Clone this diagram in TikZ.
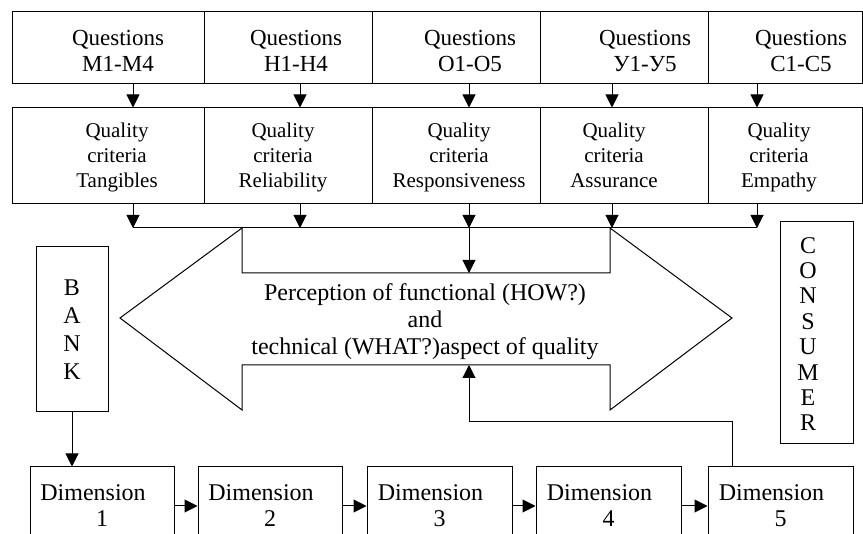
\documentclass[tikz,border=0pt]{standalone}
\usepackage{fontspec}
\setmainfont{Liberation Serif}
\usetikzlibrary{arrows.meta}

\tikzset{
  box/.style={draw, line width=1pt, inner sep=0pt},
  arr/.style={line width=1pt, -{Triangle[length=13pt,width=13pt]}},
  qfont/.style={font=\fontsize{23}{26}\selectfont, align=center},
  cfont/.style={font=\fontsize{21}{25}\selectfont, align=center},
  bigfont/.style={font=\fontsize{24}{26}\selectfont, align=center},
}

\begin{document}
\begin{tikzpicture}[x=1pt,y=-1pt]
\useasboundingbox (0,0) rectangle (863,534);

% Questions row
\node[box, minimum width=192pt, minimum height=72pt] (q1) at (108,48) {};
\node[box, minimum width=168pt, minimum height=72pt] (q2) at (288,48) {};
\node[box, minimum width=168pt, minimum height=72pt] (q3) at (456,48) {};
\node[box, minimum width=168pt, minimum height=72pt] (q4) at (624,48) {};
\node[box, minimum width=154pt, minimum height=72pt] (q5) at (785,48) {};

\node[qfont] (q1t) at (118,51) {Questions\\M1-M4};
\node[qfont] (q2t) at (296,51) {Questions\\H1-H4};
\node[qfont] (q3t) at (470,51) {Questions\\O1-O5};
\node[qfont] (q4t) at (645,51) {Questions\\У1-У5};
\node[qfont] (q5t) at (801,51) {Questions\\C1-C5};

% Criteria row
\node[box, minimum width=192pt, minimum height=96pt] (c1) at (108,156) {};
\node[box, minimum width=168pt, minimum height=96pt] (c2) at (288,156) {};
\node[box, minimum width=168pt, minimum height=96pt] (c3) at (456,156) {};
\node[box, minimum width=168pt, minimum height=96pt] (c4) at (624,156) {};
\node[box, minimum width=154pt, minimum height=96pt] (c5) at (785,156) {};

\node[cfont] (c1t) at (117,157) {Quality\\criteria\\Tangibles};
\node[cfont] (c2t) at (283,157) {Quality\\criteria\\Reliability};
\node[cfont] (c3t) at (459,157) {Quality\\criteria\\Responsiveness};
\node[cfont] (c4t) at (614,155) {Quality\\criteria\\Assurance};
\node[cfont] (c5t) at (779,157) {Quality\\criteria\\Empathy};

% Collecting line
\coordinate (b1) at (133,228);
\coordinate (b2) at (300,228);
\coordinate (b3) at (469,228);
\coordinate (b4) at (612,228);
\coordinate (b5) at (757,228);

\draw[arr] (q1.south -| b1) -- (c1.north -| b1);
\draw[arr] (q2.south -| b2) -- (c2.north -| b2);
\draw[arr] (q3.south -| b3) -- (c3.north -| b3);
\draw[arr] (q4.south -| b4) -- (c4.north -| b4);
\draw[arr] (q5.south -| b5) -- (c5.north -| b5);

\draw[arr] (c1.south -| b1) -- (b1);
\draw[arr] (c2.south -| b2) -- (b2);
\draw[arr] (c3.south -| b3) -- (b3);
\draw[arr] (c4.south -| b4) -- (b4);
\draw[arr] (c5.south -| b5) -- (b5);
\draw[line width=1pt] (b1) -- (b5);

% Double arrow of perception
\draw[line width=1pt] (242,228) -- (242,273) -- (610,273) -- (610,228) -- (732,318)
  -- (610,410) -- (610,365) -- (242,365) -- (242,410) -- (120,318) -- cycle;
\coordinate (shafttop) at (469,273);
\coordinate (shaftbot) at (469,365);
\draw[arr] (b3) -- (shafttop);

\node[bigfont, font=\fontsize{24}{27}\selectfont] (percept) at (425,322)
  {Perception of functional (HOW?)\\and\\technical (WHAT?)aspect of quality};

% Bank and consumer
\node[box, font=\fontsize{24}{28}\selectfont, align=center, minimum width=72pt, minimum height=165pt] (bank) at (72,329.5) {B\\A\\N\\K};
\node[box, minimum width=73pt, minimum height=222pt] (cons) at (816.5,333) {};
\node[font=\fontsize{24}{25.4}\selectfont, align=center] (conslbl) at (808,334) {C\\O\\N\\S\\U\\M\\E\\R};

% Dimensions
\node[box, bigfont, minimum width=144pt, minimum height=78pt] (d1) at (102,506) {Dimension\rule{18pt}{0pt}\\1};
\node[box, bigfont, minimum width=144pt, minimum height=78pt] (d2) at (270,506) {Dimension\rule{18pt}{0pt}\\2};
\node[box, bigfont, minimum width=145pt, minimum height=78pt] (d3) at (439.5,506) {Dimension\rule{18pt}{0pt}\\3};
\node[box, bigfont, minimum width=145pt, minimum height=78pt] (d4) at (608.5,506) {Dimension\rule{18pt}{0pt}\\4};
\node[box, bigfont, minimum width=145pt, minimum height=78pt] (d5) at (780.5,506) {Dimension\rule{18pt}{0pt}\\5};

\draw[arr] (bank.south) -- (bank.south |- d1.north);
\draw[arr] (d1) -- (d2);
\draw[arr] (d2) -- (d3);
\draw[arr] (d3) -- (d4);
\draw[arr] (d4) -- (d5);

% Feedback to the perception
\coordinate (fb) at (469,422);
\draw[arr] ([xshift=-48.5pt]d5.north) |- (fb) -- (shaftbot);

\end{tikzpicture}
\end{document}
